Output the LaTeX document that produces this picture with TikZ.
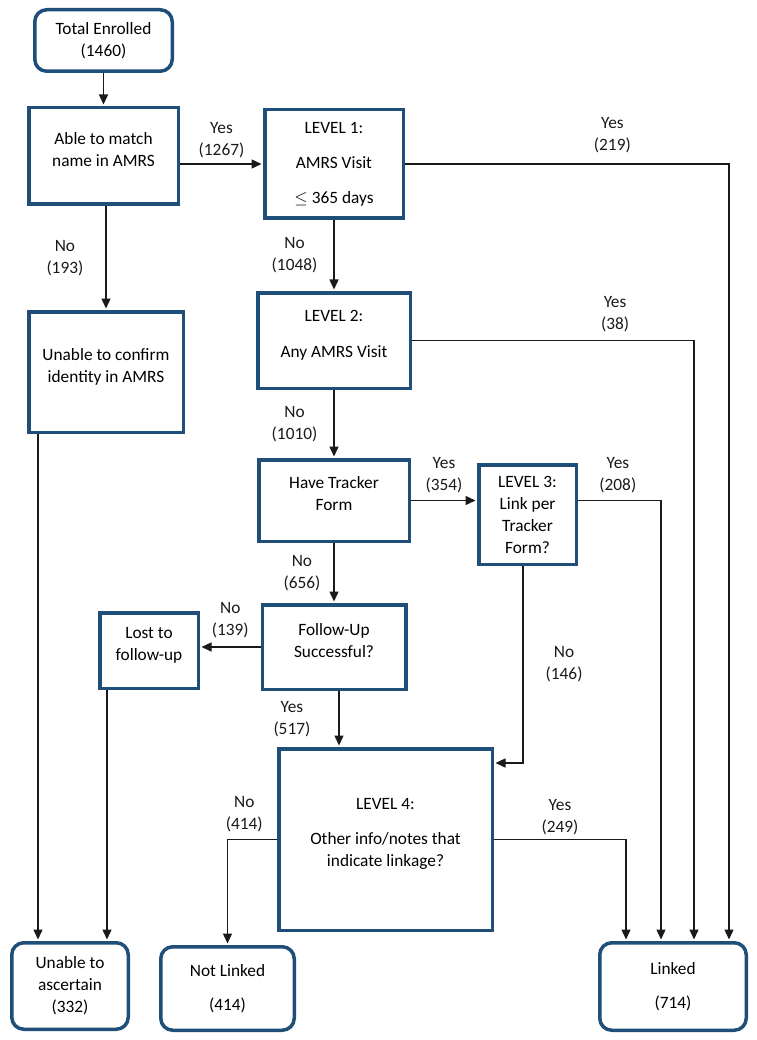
\documentclass[tikz,border=0pt]{standalone}
\usepackage{fontspec}
\setmainfont{Carlito}
\usetikzlibrary{arrows.meta}
\definecolor{frame}{HTML}{1F4E79}
\definecolor{wire}{HTML}{1A1A1A}
\newcommand{\lift}{\rule[-14pt]{0pt}{14pt}}

\begin{document}
\begin{tikzpicture}[
  x=1pt, y=1pt,
  font=\fontsize{17.3pt}{22pt}\selectfont,
  box/.style={draw=frame, line width=3.5pt, fill=white, align=center, inner sep=2pt},
  endbox/.style={box, rounded corners=12pt},
  lbl/.style={align=center, inner sep=2pt},
  arr/.style={-{Triangle[length=10pt, width=9pt]}, line width=1.4pt, wire, shorten >=1.5pt}
]
  \useasboundingbox (0,0) rectangle (756,-1040);

  % Enrolment and name match
  \node[endbox, minimum width=137.5pt, minimum height=61.5pt] (total) at (103.5,-40.5)
    {Total Enrolled\\(1460)};
  \node[box, minimum width=149.5pt, minimum height=96.5pt] (match) at (103.5,-156)
    {Able to match\\name in AMRS\lift};
  \node[box, minimum width=154.5pt, minimum height=120.5pt] (noid) at (106,-372)
    {Unable to confirm\\identity in AMRS\lift};

  % Levels 1 and 2
  \node[box, minimum width=138.5pt, minimum height=108.5pt] (lv1) at (334,-164)
    {LEVEL 1:\\[13pt]AMRS Visit\\[13pt]$\leq$ 365 days};
  \node[box, minimum width=152.5pt, minimum height=95.5pt] (lv2) at (334,-340.5)
    {LEVEL 2:\\[14pt]Any AMRS Visit\lift};

  % Tracker form and follow-up
  \node[box, minimum width=150.5pt, minimum height=81.5pt] (track) at (334,-500.5)
    {Have Tracker\\Form\lift};
  \node[box, minimum width=97.5pt, minimum height=99.5pt] (lv3) at (527.5,-514.5)
    {LEVEL 3:\\Link per\\Tracker\\Form?};
  \node[box, minimum width=143.5pt, minimum height=84.5pt] (follow) at (334,-647)
    {Follow-Up\\Successful?\lift};
  \node[box, minimum width=98.5pt, minimum height=75.5pt] (lost) at (149,-650.5)
    {Lost to\\follow-up\lift};

  % Level 4
  \node[box, minimum width=213.5pt, minimum height=181.5pt] (lv4) at (385.5,-839.5)
    {LEVEL 4:\\[13pt]Other info/notes that\\indicate linkage?\lift};

  % Outcomes
  \node[endbox, minimum width=116.5pt, minimum height=86.5pt] (unsure) at (70,-986)
    {Unable to\\ascertain\\(332)};
  \node[endbox, minimum width=133.5pt, minimum height=83.5pt] (notlink) at (227.5,-988.5)
    {Not Linked\\[12pt](414)};
  \node[endbox, minimum width=146.5pt, minimum height=87.5pt] (linked) at (673,-986.5)
    {Linked\\[12pt](714)};

  % Arrows
  \draw[arr] (total) -- (match);
  \draw[arr] (match.east |- lv1.west) -- node[lbl, above=3pt] {Yes\\(1267)} (lv1.west);
  \draw[arr] (match.south -| noid.north) -- node[lbl, left=20pt] {No\\(193)} (noid.north);
  \draw[arr] (lv1.east) -| node[lbl, above=8pt, pos=0.32] {Yes\\(219)}
    ([xshift=131pt]linked.north west);
  \draw[arr] (lv1) -- node[lbl, left=14pt] {No\\(1048)} (lv2);
  \draw[arr] (lv2.east) -| node[lbl, above=6pt, pos=0.36] {Yes\\(38)}
    ([xshift=96pt]linked.north west);
  \draw[arr] (lv2) -- node[lbl, left=14pt] {No\\(1010)} (track);
  \draw[arr] (track.east) -- node[lbl, above=5pt] {Yes\\(354)} (track.east -| lv3.west);
  \draw[arr] (lv3.east |- track.east) -| node[lbl, above=5pt, pos=0.24] {Yes\\(208)}
    ([xshift=63pt]linked.north west);
  \draw[arr] ([xshift=-4.5pt]lv3.south) |- node[lbl, right=20pt, pos=0.25] {No\\(146)}
    ([yshift=-16pt]lv4.north east);
  \draw[arr] (track) -- node[lbl, left=11pt] {No\\(656)} (follow);
  \draw[arr] (follow.west) -- node[lbl, above=6pt] {No\\(139)} (follow.west -| lost.east);
  \draw[arr] ([xshift=5pt]follow.south) -- node[lbl, left=26pt] {Yes\\(517)}
    ([xshift=5pt]follow.south |- lv4.north);
  \draw[arr] (lv4.west) -| node[lbl, above=5pt, pos=0.33] {No\\(414)} (notlink.north);
  \draw[arr] (lv4.east) -| node[lbl, above=2pt, pos=0.25] {Yes\\(249)}
    ([xshift=28pt]linked.north west);
  \draw[arr] ([xshift=11pt]noid.south west) -- ([xshift=11pt]noid.south west |- unsure.north);
  \draw[arr] ([xshift=9pt]lost.south west) -- ([xshift=9pt]lost.south west |- unsure.north);
\end{tikzpicture}
\end{document}
